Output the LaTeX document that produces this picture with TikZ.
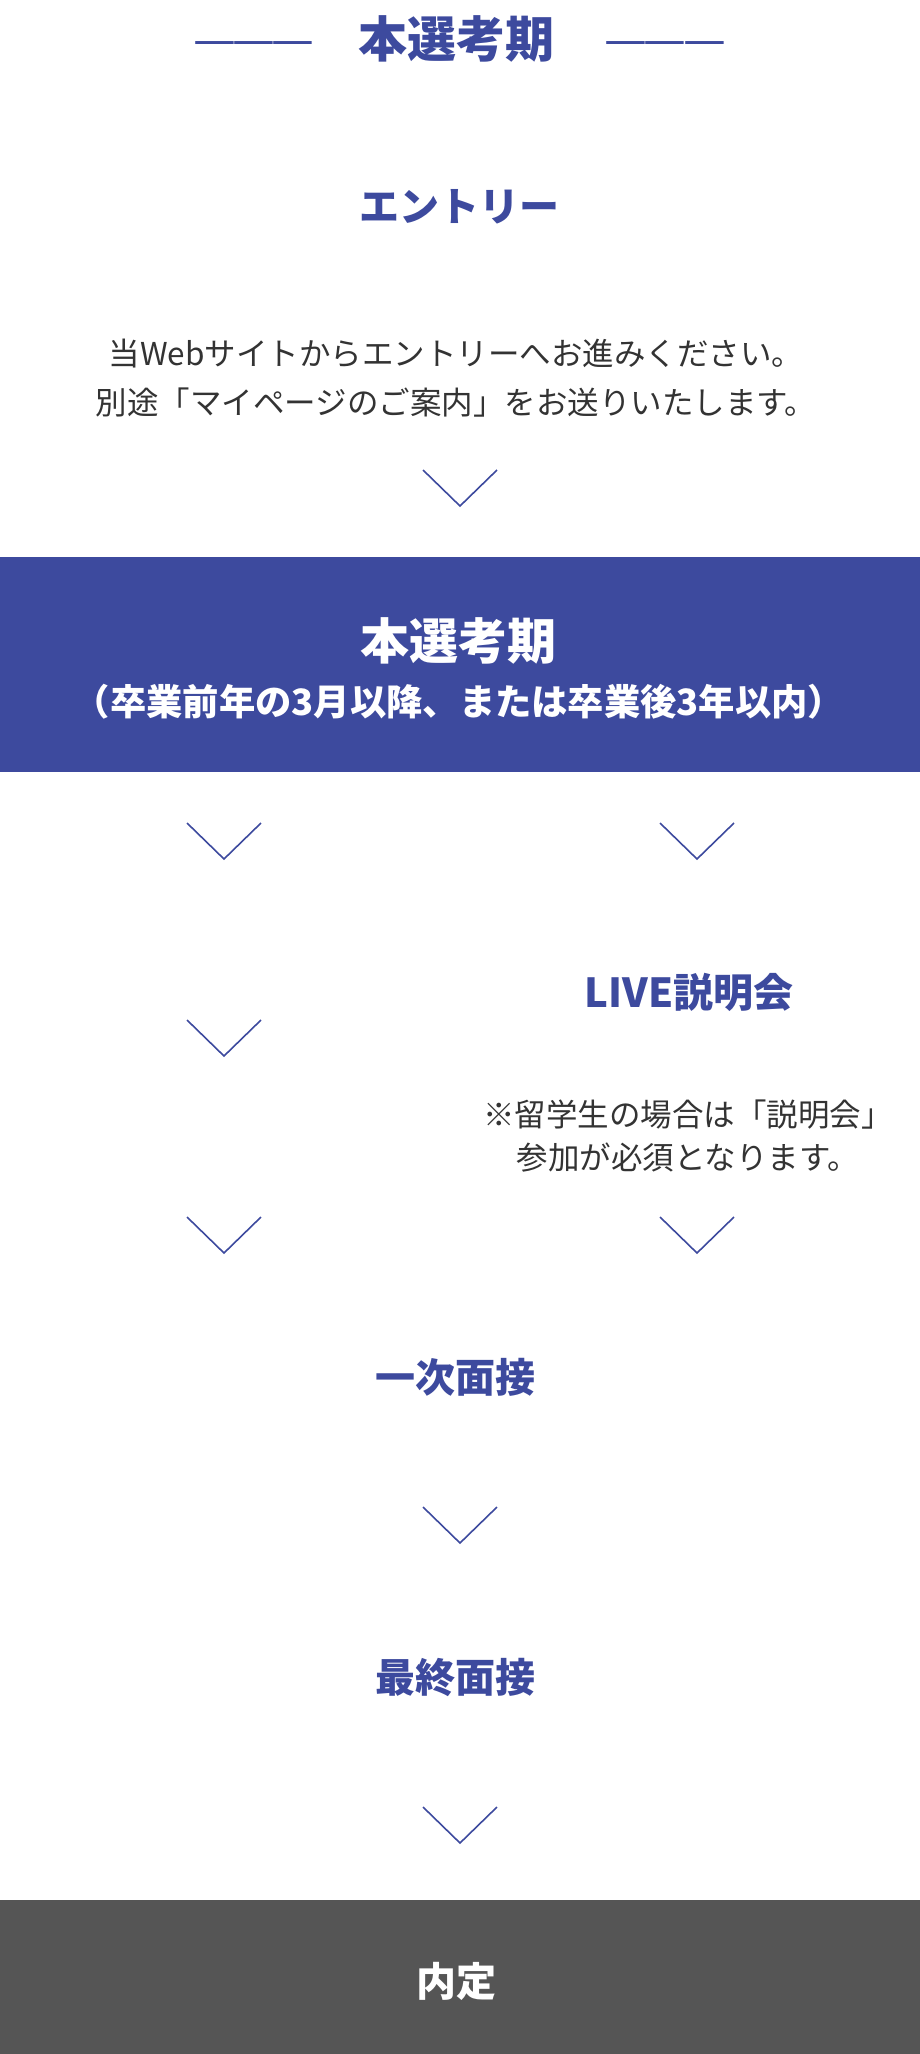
\documentclass[tikz,border=0pt]{standalone}
\usepackage{fontspec}
\setmainfont{Noto Sans CJK JP}
\usetikzlibrary{positioning}
\definecolor{selblue}{RGB}{61,74,158}
\definecolor{naigray}{RGB}{85,85,85}
\definecolor{bodygray}{RGB}{51,51,51}
\tikzset{
	headline/.style={text=selblue,inner sep=0pt,font=\fontsize{49}{49}\selectfont\bfseries},
	headdash/.style={text=selblue,inner sep=0pt,font=\fontsize{48}{48}\selectfont},
	stage/.style={text=selblue,inner sep=0pt,font=\fontsize{40}{40}\selectfont\bfseries},
	bandtitle/.style={text=white,inner sep=0pt,font=\fontsize{49}{49}\selectfont\bfseries},
	bandsub/.style={text=white,inner sep=0pt,font=\fontsize{36.3}{36.3}\selectfont\bfseries},
	note/.style={text=bodygray,inner sep=0pt,align=center,font=\fontsize{31.5}{48.5}\selectfont},
	chev/.pic={\draw[selblue,line width=1.6pt] (-37,-18) -- (0,18) -- (37,-18);}
}
\begin{document}
\begin{tikzpicture}[x=1pt,y=-1pt]
	\useasboundingbox (0,0) rectangle (920,2054);
	% heading
	\node [headline] (head) at (456,39) {本選考期};
	\node [headdash] (dashl) at (254,49) {—\kern-3.5pt—\kern-3.5pt—};
	\node [headdash] (dashr) at (665,49) {—\kern-3.5pt—\kern-3.5pt—};

	% entry
	\node [stage] (entry) at (459,207) {エントリー};
	\node [note] (entrytxt) at (456,378) {当Webサイトからエントリーへお進みください。\\別途「マイページのご案内」をお送りいたします。};
	\pic at (460,488) {chev};

	% main period band
	\fill [selblue] (0,557) rectangle (920,772);
	\node [bandtitle] (period) at (458,641) {本選考期};
	\node [bandsub] (periodsub) at (459,702) {（卒業前年の3月以降、または卒業後3年以内）};

	% two columns
	\pic at (224,841) {chev};
	\pic at (697,841) {chev};
	\node [stage] (live) at (689,992) {LIVE説明会};
	\pic at (224,1038) {chev};
	\node [note,font=\fontsize{31.5}{43}\selectfont] (livetxt) at (688,1136) {※留学生の場合は「説明会」\\参加が必須となります。};
	\pic at (224,1235) {chev};
	\pic at (697,1235) {chev};

	% interviews
	\node [stage] (first) at (455,1377) {一次面接};
	\pic at (460,1525) {chev};
	\node [stage] (final) at (455,1677) {最終面接};
	\pic at (460,1825) {chev};

	% offer
	\fill [naigray] (0,1900) rectangle (920,2054);
	\node [bandtitle,font=\fontsize{40}{40}\selectfont\bfseries] (offer) at (456,1981) {内定};
\end{tikzpicture}
\end{document}
